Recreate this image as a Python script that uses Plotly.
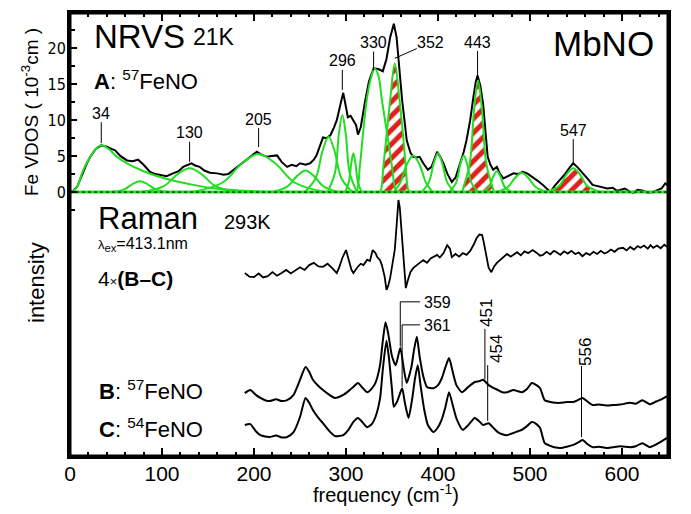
import plotly.graph_objects as go
import numpy as np

# ---------------- NRVS (top panel) ----------------
nrvs_freq = [0, 3, 8, 13, 18, 22, 28, 34, 40, 45, 49, 55, 62, 68, 74, 80, 87, 93, 98, 105, 112,
             118, 123, 128, 132, 136, 141, 146, 152, 160, 167, 172, 177, 183, 190, 196, 203, 208,
             214, 219, 225, 230, 236, 241, 246, 250, 256, 261, 265, 268, 272, 275, 279, 283, 287,
             290, 294, 297, 300, 302, 305, 308, 311, 313, 316, 321, 325, 330, 335, 340, 344, 348,
             352, 355, 357, 359, 361, 364, 366, 370, 373, 377, 380, 384, 389, 393, 396, 399, 402,
             406, 410, 415, 419, 424, 428, 431, 435, 438, 441, 443, 446, 449, 452, 454, 457, 460,
             464, 467, 471, 476, 482, 487, 492, 497, 503, 508, 514, 518, 522, 527, 533, 538, 543,
             547, 552, 558, 563, 568, 574, 579, 584, 590, 594, 598, 603, 608, 612, 617, 623, 628,
             634, 639, 643, 647, 650]
nrvs_vdos = [0.0, 0.1, 0.8, 2.4, 3.9, 4.9, 6.0, 6.5, 6.3, 6.0, 5.8, 5.0, 4.4, 4.3, 4.5, 3.8, 2.8,
             2.5, 2.4, 2.2, 2.6, 2.9, 3.5, 3.8, 4.0, 3.7, 3.5, 3.0, 2.7, 2.6, 2.4, 2.5, 3.0, 3.6,
             4.4, 5.0, 5.6, 5.2, 4.9, 5.0, 5.1, 4.2, 3.5, 3.8, 3.6, 4.0, 3.8, 4.0, 4.5, 5.1, 6.6,
             7.6, 7.5, 7.9, 9.0, 10.0, 12.2, 13.8, 11.8, 10.4, 10.6, 10.0, 9.3, 8.0, 9.0, 12.8,
             15.4, 17.2, 17.1, 16.8, 18.5, 21.5, 23.4, 21.5, 18.3, 15.3, 12.8, 9.5, 7.2, 5.5, 4.9,
             4.8, 4.9, 4.0, 3.1, 3.5, 4.6, 5.6, 5.0, 4.0, 2.6, 1.4, 2.0, 4.0, 5.6, 7.2, 10.0, 12.8,
             15.3, 16.2, 14.8, 12.3, 8.0, 4.9, 3.8, 3.1, 3.5, 2.6, 1.9, 2.2, 2.6, 2.5, 2.8, 2.6,
             2.1, 1.6, 1.0, 0.5, 0.0, 0.9, 1.7, 2.5, 3.4, 4.0, 3.4, 2.6, 1.8, 1.0, 0.8, 0.6, 0.5,
             0.6, 0.2, 0.3, 0.5, 0.1, -0.1, 0.3, 0.2, -0.1, 0.0, 0.3, 0.5, 1.2, 0.9]

# fitted component bands (green), read point by point
green_components = [
    ([3, 8, 13, 18, 22, 28, 34, 42, 50, 62, 80, 98, 115, 134, 152, 170, 200, 230],
     [0, 0.8, 2.6, 4.0, 4.9, 6.0, 6.5, 6.0, 5.0, 4.0, 2.9, 2.1, 1.5, 1.0, 0.6, 0.35, 0.1, 0]),
    ([45, 59, 68, 76, 84, 93, 107], [0, 0.38, 1.12, 1.5, 1.12, 0.38, 0]),
    ([78, 102, 117, 130, 143, 158, 182], [0, 0.83, 2.5, 3.3, 2.5, 0.83, 0]),
    ([133, 166, 187, 205, 223, 244, 277], [0, 1.33, 4.0, 5.3, 4.0, 1.33, 0]),
    ([220, 236, 247, 256, 265, 276, 292], [0, 0.75, 2.25, 3.0, 2.25, 0.75, 0]),
    ([255, 267, 274.6, 281, 287.4, 295, 307], [0, 1.93, 5.78, 7.7, 5.78, 1.93, 0]),
    ([280, 288, 292.2, 296, 299.8, 304, 312], [0, 2.68, 8.0, 10.7, 8.0, 2.68, 0]),
    ([299, 303, 305.8, 308, 310.2, 313, 317], [0, 1.35, 4.05, 5.4, 4.05, 1.35, 0]),
    ([309, 312, 315, 318.6, 322.5, 327, 331, 335, 339, 344.6, 350, 354, 357],
     [0, 0.3, 3.5, 8.2, 12.8, 15.8, 17.2, 16.3, 12.8, 8.2, 3.5, 0.3, 0]),
    ([352, 359, 366, 373, 380, 387, 394], [0, 1.3, 3.8, 5.1, 3.8, 1.3, 0]),
    ([382, 390, 395.5, 400, 404.5, 410, 418], [0, 1.35, 4.05, 5.4, 4.05, 1.35, 0]),
    ([412, 419.6, 424.2, 428, 431.8, 436.4, 444], [0, 1.28, 3.83, 5.1, 3.83, 1.28, 0]),
    ([448, 455.6, 460.2, 464, 467.8, 472.4, 480], [0, 0.73, 2.2, 2.9, 2.2, 0.73, 0]),
    ([463, 475.6, 484, 491, 498, 506.4, 519], [0, 0.68, 2.0, 2.7, 2.0, 0.68, 0]),
]
# iron-NO bands (red hatched): 352, 443, 547
hatched_components = [
    ([336, 338, 340.6, 344.3, 348, 353, 358.2, 361.8, 365, 367.7, 370],
     [0, 0.3, 3.5, 8.2, 12.8, 17.9, 12.8, 8.2, 3.5, 0.3, 0]),
    ([426, 434.4, 439.3, 443.5, 447.7, 452.6, 461], [0, 3.9, 11.6, 15.5, 11.6, 3.9, 0]),
    ([518, 531.6, 540, 547, 554, 562.4, 576], [0, 0.83, 2.5, 3.3, 2.5, 0.83, 0]),
]
baseline_freq = [0, 650]
baseline_vdos = [0, 0]

nrvs_label_text = ["34", "130", "205", "296", "330", "352", "443", "547"]
nrvs_label_freq = [34, 130, 205, 296, 330, 353, 443, 547]
nrvs_label_tip = [6.8, 4.2, 6.25, 14.2, 16.9, 18.6, 16.0, 3.75]

# ---------------- Raman (bottom panel) ----------------
raman_freq_B = [190, 196, 202, 207, 212, 217, 224, 230, 236, 243, 250, 256, 260, 264, 270, 275, 282,
                288, 297, 303, 308, 313, 318, 323, 328, 332, 337, 340, 343, 346, 350, 354, 359, 363,
                366, 371, 374, 377, 380, 384, 388, 395, 400, 404, 408, 412, 416, 420, 426, 433, 440,
                445, 449, 455, 460, 465, 470, 475, 482, 487, 491, 497, 502, 507, 511, 516, 522, 528,
                533, 540, 547, 552, 557, 563, 568, 575, 583, 590, 598, 609, 615, 622, 630, 637, 643, 649]
raman_B = [14.2, 14.9, 13.8, 13.1, 12.6, 12.4, 12.8, 12.4, 12.6, 13.8, 17.2, 20.1, 19.0, 17.2, 15.8,
           14.9, 13.8, 13.1, 13.8, 14.7, 15.6, 16.5, 15.4, 14.4, 15.2, 16.5, 20.5, 26.0, 30.2, 27.5,
           22.5, 20.5, 24.4, 19.5, 16.5, 20.0, 24.0, 26.9, 22.5, 18.0, 15.6, 15.3, 16.0, 17.5, 20.0,
           22.1, 19.0, 16.0, 14.4, 15.6, 16.7, 16.9, 17.2, 16.0, 15.4, 14.9, 14.4, 14.4, 14.9, 14.6,
           14.4, 15.2, 16.5, 16.0, 15.3, 12.6, 12.2, 12.0, 12.0, 12.2, 12.2, 12.6, 13.1, 12.2, 11.5,
           11.6, 11.4, 11.5, 11.6, 12.0, 11.8, 12.6, 11.7, 12.3, 12.8, 13.5]

raman_freq_C = [190, 196, 202, 207, 212, 217, 224, 230, 236, 243, 250, 256, 260, 264, 270, 275, 282,
                288, 297, 303, 308, 313, 318, 323, 328, 332, 337, 340, 344, 347, 350, 352, 356, 361,
                364, 368, 372, 375, 378, 381, 385, 389, 395, 400, 404, 408, 412, 416, 420, 427, 433,
                440, 445, 449, 455, 460, 465, 470, 475, 482, 487, 491, 497, 502, 507, 511, 516, 522,
                528, 533, 540, 547, 552, 557, 563, 568, 575, 583, 590, 598, 609, 615, 622, 630, 637,
                643, 649]
raman_C = [7.0, 7.2, 5.6, 4.7, 4.4, 4.3, 4.6, 4.2, 4.3, 5.4, 8.8, 13.1, 12.0, 10.4, 8.6, 7.4, 5.6,
           4.5, 4.7, 6.0, 7.7, 8.6, 7.6, 6.5, 7.2, 8.8, 13.0, 19.5, 26.0, 21.5, 15.0, 11.1, 12.5,
           15.3, 12.0, 8.6, 13.0, 17.5, 20.5, 16.0, 10.5, 7.0, 5.4, 6.5, 8.2, 11.0, 14.4, 11.5, 8.5,
           5.9, 7.0, 8.6, 7.8, 7.0, 7.4, 6.4, 5.4, 4.9, 4.7, 5.2, 5.6, 5.9, 6.8, 7.7, 7.2, 6.3, 2.9,
           2.3, 1.9, 1.8, 2.1, 2.5, 3.0, 3.6, 2.6, 2.0, 2.1, 1.8, 2.0, 2.2, 2.0, 2.2, 2.9, 2.0, 2.6,
           3.3, 4.1]

diff_freq = [190, 195, 200, 205, 210, 215, 220, 225, 230, 235, 240, 245, 250, 255, 260, 265, 270,
             275, 280, 285, 290, 293, 296, 300, 303, 306, 308, 312, 316, 319, 323, 326, 329, 332,
             334, 337, 339, 342, 344, 346, 348, 351, 353, 355, 357, 358.5, 360, 361.5, 363, 365,
             367, 370, 373, 376, 380, 384, 388, 392, 396, 399, 402, 406, 410, 413, 415, 419, 423,
             427, 431, 435, 439, 442, 445, 448, 450, 453, 455, 458, 461, 464, 467, 471, 475, 479,
             482, 486, 490, 494, 498, 503, 507, 511, 514, 518, 522, 526, 529, 533, 537, 541, 545,
             549, 553, 557, 561, 565, 569, 573, 577, 581, 584, 588, 592, 596, 601, 605, 609, 613,
             617, 620, 624, 628, 631, 634, 638, 642, 646, 649]
diff_BC = [41.3, 40.5, 40.4, 41.2, 40.3, 40.6, 41.5, 40.7, 41.3, 42.0, 41.2, 42.0, 42.6, 42.0,
           43.1, 43.6, 42.8, 42.7, 43.4, 42.4, 41.3, 42.8, 44.7, 46.5, 44.5, 42.0, 41.3, 42.5,
           43.4, 43.1, 44.3, 44.0, 46.5, 45.8, 44.9, 44.2, 43.1, 40.5, 37.5, 38.5, 40.2, 44.0,
           46.5, 52.0, 57.8, 56.0, 51.7, 47.5, 43.6, 37.9, 39.5, 41.5, 42.4, 43.0, 43.6, 44.2,
           43.6, 44.6, 45.0, 45.4, 44.8, 45.8, 47.6, 46.8, 44.9, 45.6, 45.0, 45.8, 45.4, 46.3,
           47.8, 49.2, 50.0, 49.9, 48.0, 44.9, 42.5, 41.5, 42.8, 43.6, 44.2, 44.8, 45.6, 45.0,
           45.4, 46.0, 45.3, 46.2, 45.8, 46.5, 45.9, 45.2, 45.4, 46.1, 45.5, 46.3, 46.0, 45.4,
           46.2, 45.7, 46.3, 45.6, 45.9, 45.1, 45.8, 45.4, 46.1, 45.6, 46.3, 45.7, 46.0, 46.6,
           46.1, 46.8, 47.0, 46.4, 47.2, 46.6, 47.4, 47.0, 47.5, 46.8, 47.6, 47.0, 47.5, 46.9,
           47.7, 47.2]

# ---------------- figure ----------------
FONT = "Arial, Liberation Sans, Helvetica, sans-serif"
GREEN = "#22dd22"
RED = "#e0201c"

fig = go.Figure()

for xs, ys in hatched_components:
    fig.add_trace(go.Scatter(x=xs, y=ys, mode="lines", line=dict(color=GREEN, width=0, shape="spline"),
                             fill="tozeroy", fillcolor="white",
                             fillpattern=dict(shape="/", fgcolor=RED, bgcolor="white", size=10,
                                              solidity=0.5, fgopacity=1),
                             hoverinfo="skip", showlegend=False))

fig.add_trace(go.Scatter(x=nrvs_freq, y=nrvs_vdos, mode="lines",
                         line=dict(color="black", width=2), showlegend=False))

for xs, ys in green_components + hatched_components:
    fig.add_trace(go.Scatter(x=xs, y=ys, mode="lines",
                             line=dict(color=GREEN, width=2, shape="spline", smoothing=1.0),
                             showlegend=False))

fig.add_trace(go.Scatter(x=baseline_freq, y=baseline_vdos, mode="lines",
                         line=dict(color=GREEN, width=3), showlegend=False))
fig.add_trace(go.Scatter(x=baseline_freq, y=baseline_vdos, mode="lines",
                         line=dict(color="black", width=1, dash="dot"), showlegend=False))

# Raman traces on second (hidden) axis
fig.add_trace(go.Scatter(x=diff_freq, y=diff_BC, mode="lines", yaxis="y2",
                         line=dict(color="black", width=1.8), showlegend=False))
fig.add_trace(go.Scatter(x=raman_freq_B, y=raman_B, mode="lines", yaxis="y2",
                         line=dict(color="black", width=2, shape="spline", smoothing=0.6),
                         showlegend=False))
fig.add_trace(go.Scatter(x=raman_freq_C, y=raman_C, mode="lines", yaxis="y2",
                         line=dict(color="black", width=2, shape="spline", smoothing=0.6),
                         showlegend=False))

ann = []


def P(px, py):
    # window pixel -> paper fraction (plot area spans px 70..668, py 13..456)
    return (px - 70) / 598.0, (456 - py) / 443.0


def text_at(px, py, text, size, anchor="left", angle=0):
    x, y = P(px, py)
    ann.append(dict(x=x, y=y, xref="paper", yref="paper", text=text, showarrow=False,
                    xanchor=anchor, yanchor="middle", textangle=angle,
                    font=dict(family=FONT, size=size, color="black")))


# NRVS peak labels with leaders
offsets = {"34": (0, -30), "130": (0, -29), "205": (0, -28), "296": (0, -29), "330": (0, -28),
           "352": (36, -16), "443": (0, -35), "547": (0, -35)}
for t, fx, fy in zip(nrvs_label_text, nrvs_label_freq, nrvs_label_tip):
    ax, ay = offsets[t]
    ann.append(dict(x=fx, y=fy, xref="x", yref="y", text=t, showarrow=True, arrowhead=0,
                    arrowwidth=1, arrowcolor="black", ax=ax, ay=ay, standoff=0, borderpad=0,
                    font=dict(family=FONT, size=16, color="black")))

text_at(92, 36, "NRVS", 33)
text_at(191, 37, "21K", 23)
text_at(92, 80, "<b>A</b>: <sup>57</sup>FeNO", 22)
text_at(551, 43, "MbNO", 35)

text_at(96, 219, "Raman", 31)
text_at(222, 222, "293K", 20)
text_at(96, 244, "<span style='font-size:13px'>λ</span><sub>ex</sub>=413.1nm", 16)
text_at(96, 278, "4<span style='font-size:13px'>×</span><b>(B–C)</b>", 21)
text_at(97, 390, "<b>B</b>: <sup>57</sup>FeNO", 22)
text_at(97, 428, "<b>C</b>: <sup>54</sup>FeNO", 22)

# Raman peak labels
text_at(422, 302, "359", 16)
text_at(422, 325, "361", 16)
text_at(487, 313, "451", 17, anchor="center", angle=-90)
text_at(496, 349, "454", 17, anchor="center", angle=-90)
text_at(585, 352, "556", 17, anchor="center", angle=-90)

# axis titles
text_at(30, 112, "Fe VDOS ( 10<sup>-3</sup>cm )", 19, anchor="center", angle=-90)
text_at(36, 283, "intensity", 22, anchor="center", angle=-90)
text_at(386, 493, "frequency (cm<sup>-1</sup>)", 20, anchor="center")

for a in ann:
    fig.add_annotation(**a)


# leader lines for Raman labels (data coords)
def lv(x, y0, y1):
    fig.add_shape(type="line", xref="x", yref="y2", x0=x, x1=x, y0=y0, y1=y1,
                  line=dict(color="black", width=1))


def lh(x0, x1, y):
    fig.add_shape(type="line", xref="x", yref="y2", x0=x0, x1=x1, y0=y, y1=y,
                  line=dict(color="black", width=1))


lv(359, float(np.interp(359, raman_freq_B, raman_B)) + 0.3, 34.8)
lh(359, 380.4, 34.8)
lv(361, float(np.interp(361, raman_freq_C, raman_C)) + 0.3, 29.6)
lh(361, 380.4, 29.6)
lv(451, float(np.interp(451, raman_freq_B, raman_B)) + 0.5, 28.7)
lv(454, float(np.interp(454, raman_freq_C, raman_C)) + 0.6, 20.5)
lv(556, float(np.interp(556, raman_freq_C, raman_C)) + 0.8, 20.3)

# frame around the plot area
fig.add_shape(type="rect", xref="paper", yref="paper", x0=0, x1=1, y0=0, y1=1,
              line=dict(color="black", width=3), layer="above")

# page body has an 8px margin: figure is sized/offset so the plot area lands at 70..668 x 13..456
fig.update_layout(
    width=675, height=506,
    margin=dict(l=62, r=15, t=5, b=58, autoexpand=False),
    plot_bgcolor="white", paper_bgcolor="white",
    showlegend=False,
    xaxis=dict(range=[0, 650], showgrid=False, zeroline=False, showline=True, linecolor="black",
               linewidth=3, mirror="ticks", ticks="inside", ticklen=8, tickwidth=2,
               tickcolor="black", tickvals=[0, 100, 200, 300, 400, 500, 600], automargin=False,
               ticklabelstandoff=-3,
               tickfont=dict(family=FONT, size=21, color="black"),
               minor=dict(ticks="inside", ticklen=4, tickwidth=2, tickcolor="black",
                          tickvals=list(range(20, 650, 20)), showgrid=False)),
    yaxis=dict(range=[-36.7, 24.9], showgrid=False, zeroline=False, showline=True,
               linecolor="black", linewidth=3, mirror=True, ticks="inside", ticklen=7,
               tickwidth=2, tickcolor="black", tickvals=[0, 5, 10, 15, 20], automargin=False,
               ticklabelstandoff=-2,
               tickfont=dict(family="Liberation Sans Narrow, Arial Narrow, DejaVu Sans Condensed, " + FONT,
                             size=16, color="black"),
               minor=dict(ticks="inside", ticklen=5, tickwidth=2, tickcolor="black",
                          tickvals=[-2.5, 2.5, 7.5, 12.5, 17.5, 22.5], showgrid=False)),
    yaxis2=dict(range=[0, 100], overlaying="y", visible=False, automargin=False),
)

fig.write_html("out.html")
